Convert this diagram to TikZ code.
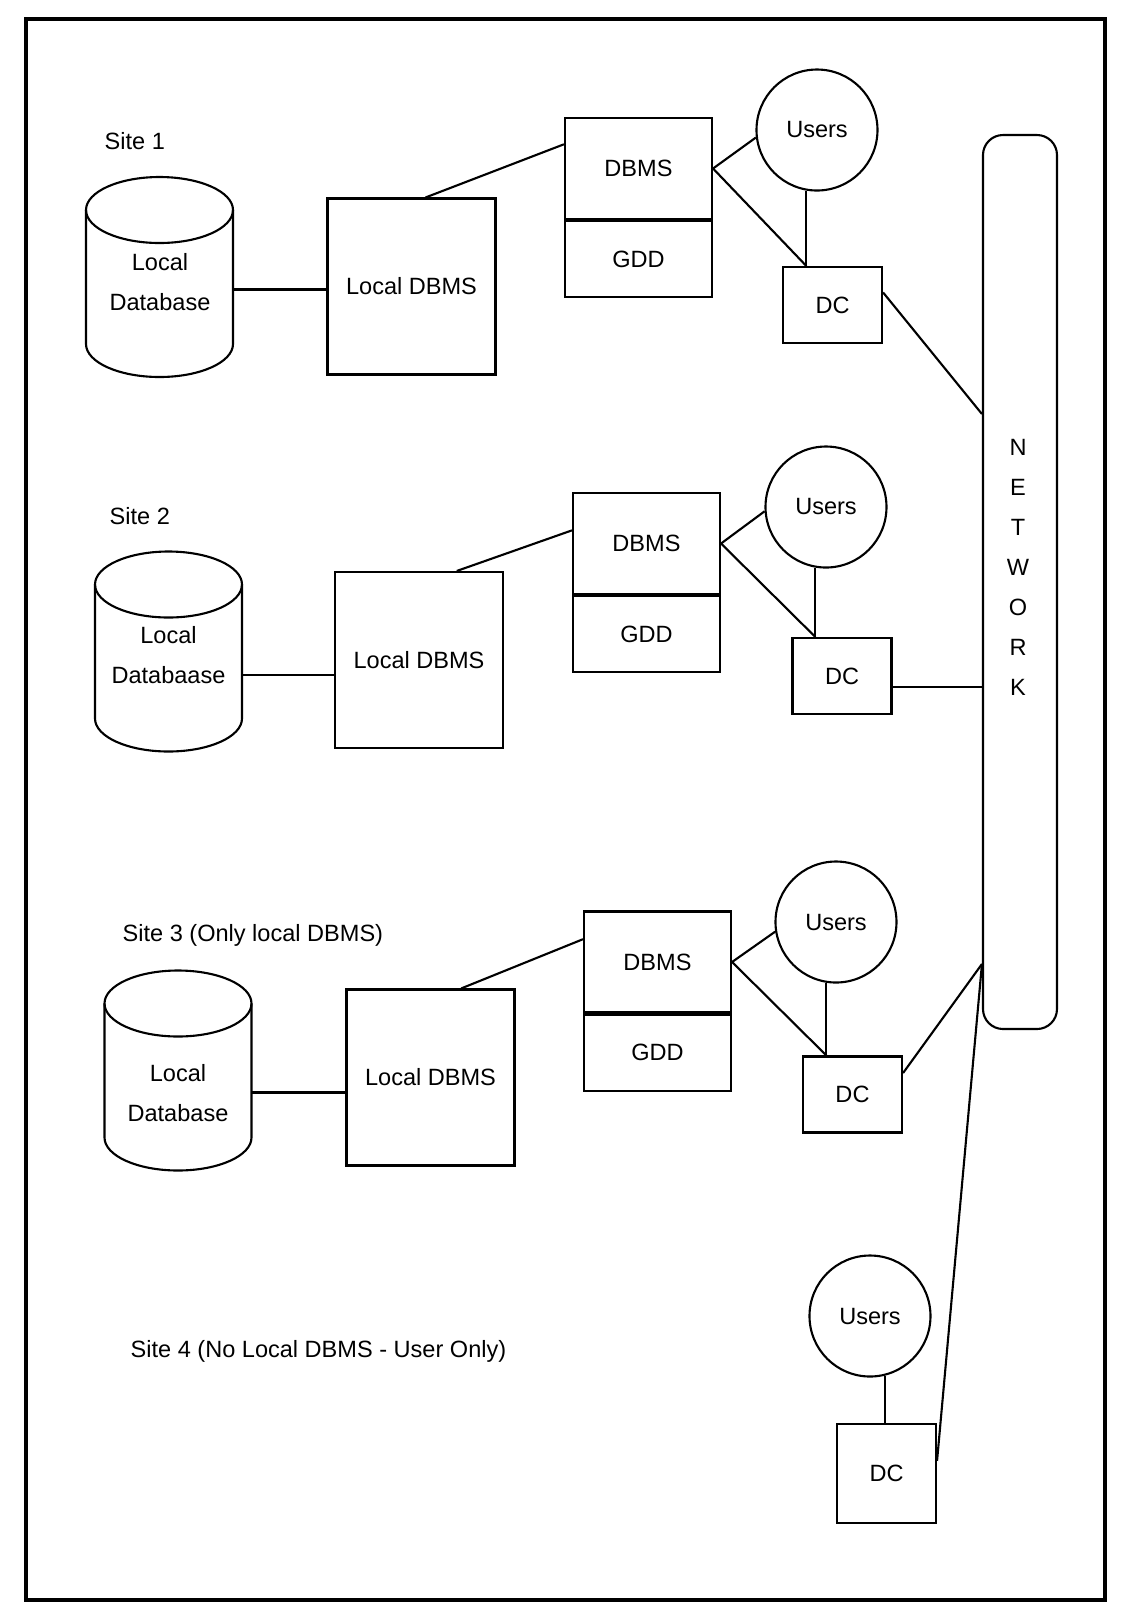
\documentclass[tikz,border=0pt]{standalone}
\usepackage{fontspec}
\setmainfont{Liberation Sans}
\usetikzlibrary{positioning, calc}
\tikzset{
  link/.style={line width=.6pt},
  lbl/.style={align=center, inner sep=0pt},
  localbox/.style={draw, link, inner sep=0pt, minimum width=1.68cm, minimum height=1.76cm},
  dbmscell/.style={draw, link, inner sep=0pt, minimum width=1.47cm, minimum height=1.01cm},
  gddcell/.style={draw, link, inner sep=0pt, minimum width=1.47cm, minimum height=.76cm},
  dcbox/.style={draw, link, inner sep=0pt, minimum width=.99cm, minimum height=.76cm},
  users/.style={draw, link, circle, inner sep=0pt, minimum size=1.21cm},
  cyl/.style={inner sep=0pt, outer sep=0pt, minimum width=1.47cm, minimum height=2cm},
}
\begin{document}
\begin{tikzpicture}[x=1cm,y=1cm,font=\fontsize{6.7}{11.4}\selectfont]
\useasboundingbox (0,0) rectangle (11.23,-16.04);
\draw[line width=.9pt] (0.26,-0.19) rectangle (11.05,-16.00);
% local databases
\foreach \n/\x/\y in {1/1.595/-2.77, 2/1.685/-6.515, 3/1.78/-10.705}{
\node[cyl] (db\n) at (\x,\y) {};
\draw[link] ($(db\n.north west)+(0,-.33)$) -- ($(db\n.south west)+(0,.33)$)
  arc[start angle=180,end angle=360,x radius=.735,y radius=.33] -- ($(db\n.north east)+(0,-.33)$);
\draw[link] ($(db\n.north)+(0,-.33)$) ellipse[x radius=.735,y radius=.33];}
% network
\node[draw,link,rounded corners=2mm,minimum width=.74cm,minimum height=8.94cm,inner sep=0pt] (net) at (10.20,-5.82) {};
\node[lbl] (netlbl) at (10.18,-5.675) {N\\E\\T\\W\\O\\R\\K};
\coordinate (nA) at (net.west |- 0,-4.14);
\coordinate (nB) at (net.west |- 0,-9.64);
% site 1
\node[lbl,anchor=west] (s1) at (1.04,-1.41) {Site 1};
\node[lbl] (db1t) at (1.60,-2.825) {Local\\Database};
\node[localbox] (ldbms1) at (4.115,-2.865) {Local DBMS};
\node[dbmscell] (dbms1) at (6.385,-1.685) {DBMS};
\node[gddcell,below=0pt of dbms1] (gdd1) {GDD};
\node[users] (users1) at (8.17,-1.30) {Users};
\node[dcbox] (dc1) at (8.325,-3.05) {DC};
\draw[link] (ldbms1.182 -| db1.east) -- (ldbms1.182);
\draw[link] (ldbms1.81) -- (dbms1.162);
\draw[link] (dbms1.east) -- (users1.187);
\draw[link] (dbms1.east) -- (users1.260 |- dc1.north);
\draw[link] (users1.260) -- (users1.260 |- dc1.north);
\draw[link] (dc1.14) -- (nA);
% site 2
\node[lbl,anchor=west] (s2) at (1.09,-5.16) {Site 2};
\node[lbl] (db2t) at (1.685,-6.55) {Local\\Databaase};
\node[localbox] (ldbms2) at (4.19,-6.60) {Local DBMS};
\node[dbmscell] (dbms2) at (6.465,-5.435) {DBMS};
\node[gddcell,below=0pt of dbms2] (gdd2) {GDD};
\node[users] (users2) at (8.26,-5.07) {Users};
\node[dcbox] (dc2) at (8.42,-6.76) {DC};
\draw[link] (ldbms2.190 -| db2.east) -- (ldbms2.190);
\draw[link] (ldbms2.67) -- (dbms2.170);
\draw[link] (dbms2.east) -- (users2.184);
\draw[link] (dbms2.east) -- (users2.260 |- dc2.north);
\draw[link] (users2.260) -- (users2.260 |- dc2.north);
\draw[link] (dc2.348) -- (dc2.348 -| net.west);
% site 3
\node[lbl,anchor=west] (s3) at (1.22,-9.35) {Site 3 (Only local DBMS)};
\node[lbl] (db3t) at (1.78,-10.93) {Local\\Database};
\node[localbox] (ldbms3) at (4.305,-10.775) {Local DBMS};
\node[dbmscell] (dbms3) at (6.575,-9.62) {DBMS};
\node[gddcell,below=0pt of dbms3] (gdd3) {GDD};
\node[users] (users3) at (8.36,-9.22) {Users};
\node[dcbox] (dc3) at (8.525,-10.945) {DC};
\draw[link] (ldbms3.190 -| db3.east) -- (ldbms3.190);
\draw[link] (ldbms3.71) -- (dbms3.163);
\draw[link] (dbms3.east) -- (users3.189);
\draw[link] (dbms3.east) -- (users3.261 |- dc3.north);
\draw[link] (users3.261) -- (users3.261 |- dc3.north);
\draw[link] (dc3.23) -- (nB);
% site 4
\node[lbl,anchor=west] (s4) at (1.30,-13.51) {Site 4 (No Local DBMS - User Only)};
\node[users] (users4) at (8.70,-13.16) {Users};
\node[dcbox,minimum height=.99cm] (dc4) at (8.865,-14.735) {DC};
\draw[link] (users4.284) -- (users4.284 |- dc4.north);
\draw[link] (dc4.14) -- (nB);
\end{tikzpicture}
\end{document}
